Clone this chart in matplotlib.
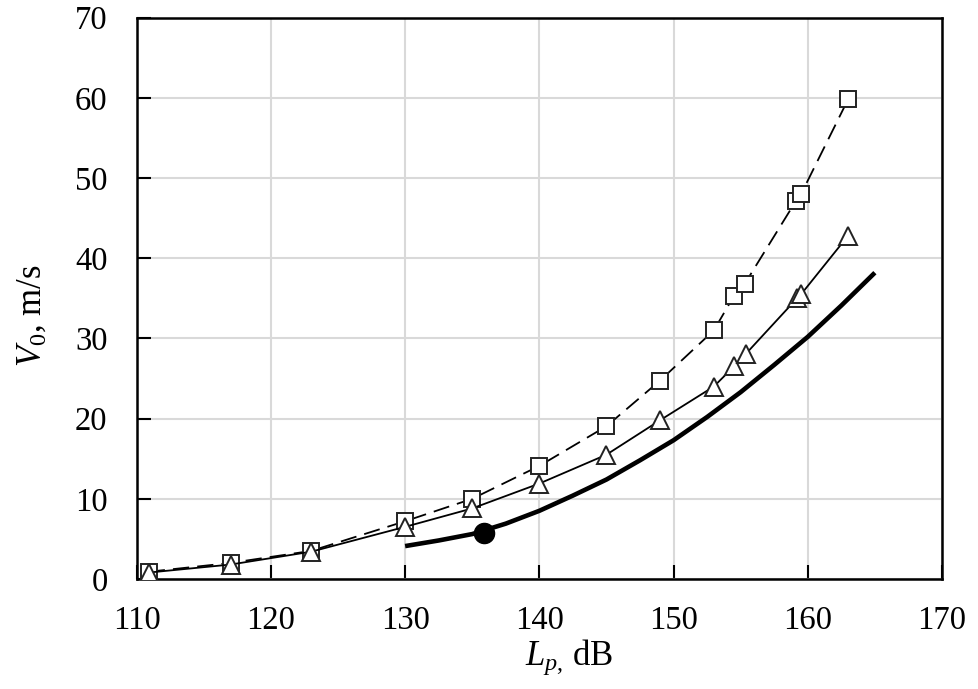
import matplotlib
matplotlib.use("Agg")
import matplotlib.pyplot as plt

plt.rcParams['font.family'] = ['Liberation Serif', 'DejaVu Serif']
plt.rcParams['mathtext.fontset'] = 'custom'
plt.rcParams['mathtext.rm'] = 'Liberation Serif'
plt.rcParams['mathtext.it'] = 'Liberation Serif:italic'

# Squares (dashed line)
sq_L = [110.9, 117.0, 123.0, 130.0, 135.0, 140.0, 145.0, 149.0, 153.0, 154.5, 155.3, 159.1, 159.5, 163.0]
sq_V = [0.9, 2.0, 3.5, 7.2, 10.0, 14.1, 19.05, 24.75, 31.0, 35.3, 36.8, 47.1, 48.0, 59.8]

# Triangles (thin solid line)
tr_L = [110.9, 117.0, 123.0, 130.0, 135.0, 140.0, 145.0, 149.0, 153.0, 154.5, 155.4, 159.2, 159.5, 163.0]
tr_V = [0.8, 1.8, 3.4, 6.5, 8.8, 11.9, 15.5, 19.8, 24.0, 26.5, 28.1, 35.0, 35.5, 42.8]

# Thick curve
th_L = [130.0, 132.5, 135.0, 137.5, 140.0, 142.5, 145.0, 147.5, 150.0, 152.5, 155.0, 157.5, 160.0, 162.5, 165.0]
th_V = [4.1, 4.8, 5.6, 6.9, 8.5, 10.4, 12.4, 14.8, 17.3, 20.2, 23.3, 26.7, 30.2, 34.1, 38.2]

# Single filled point
pt_L = [135.9]
pt_V = [5.75]

x_ticks = [110, 120, 130, 140, 150, 160, 170]
y_ticks = [0, 10, 20, 30, 40, 50, 60, 70]

fig = plt.figure(figsize=(9.79, 6.89), dpi=100)
ax = fig.add_axes([0.1396, 0.1597, 0.8226, 0.8146])

ax.plot(sq_L, sq_V, linestyle=(0, (9, 4.5)), color='black', linewidth=1.3, zorder=3,
        marker='s', markersize=11.5, markerfacecolor='white', markeredgecolor='#222222',
        markeredgewidth=1.4)
ax.plot(tr_L, tr_V, linestyle='-', color='black', linewidth=1.3, zorder=4,
        marker='^', markersize=13, markerfacecolor='white', markeredgecolor='#222222',
        markeredgewidth=1.4)
ax.plot(th_L, th_V, linestyle='-', color='black', linewidth=3.3, zorder=5,
        solid_capstyle='butt')
ax.plot(pt_L, pt_V, linestyle='none', marker='o', markersize=14.5, color='black', zorder=6)

ax.set_xlim(110, 170)
ax.set_ylim(0, 70)
ax.set_xticks(x_ticks)
ax.set_yticks(y_ticks)
ax.grid(True, color='#d9d9d9', linewidth=1.5, zorder=0)
ax.set_axisbelow(True)

for s in ax.spines.values():
    s.set_linewidth(1.8)
    s.set_color('black')

ax.tick_params(axis='both', direction='in', length=10, width=1.5, labelsize=23.5, colors='black')
ax.tick_params(axis='x', pad=19)
ax.tick_params(axis='y', pad=21)
ax.tick_params(top=False, right=False)

fig.text(569 / 979, 1 - 657 / 689, r'$L_{p\mathrm{,}}$ dB', fontsize=25,
         ha='center', va='center')
fig.text(32 / 979, 1 - 316 / 689, r'$V_0$, m/s', fontsize=25,
         ha='center', va='center', rotation=90)

fig.savefig('out.png', dpi=100)
